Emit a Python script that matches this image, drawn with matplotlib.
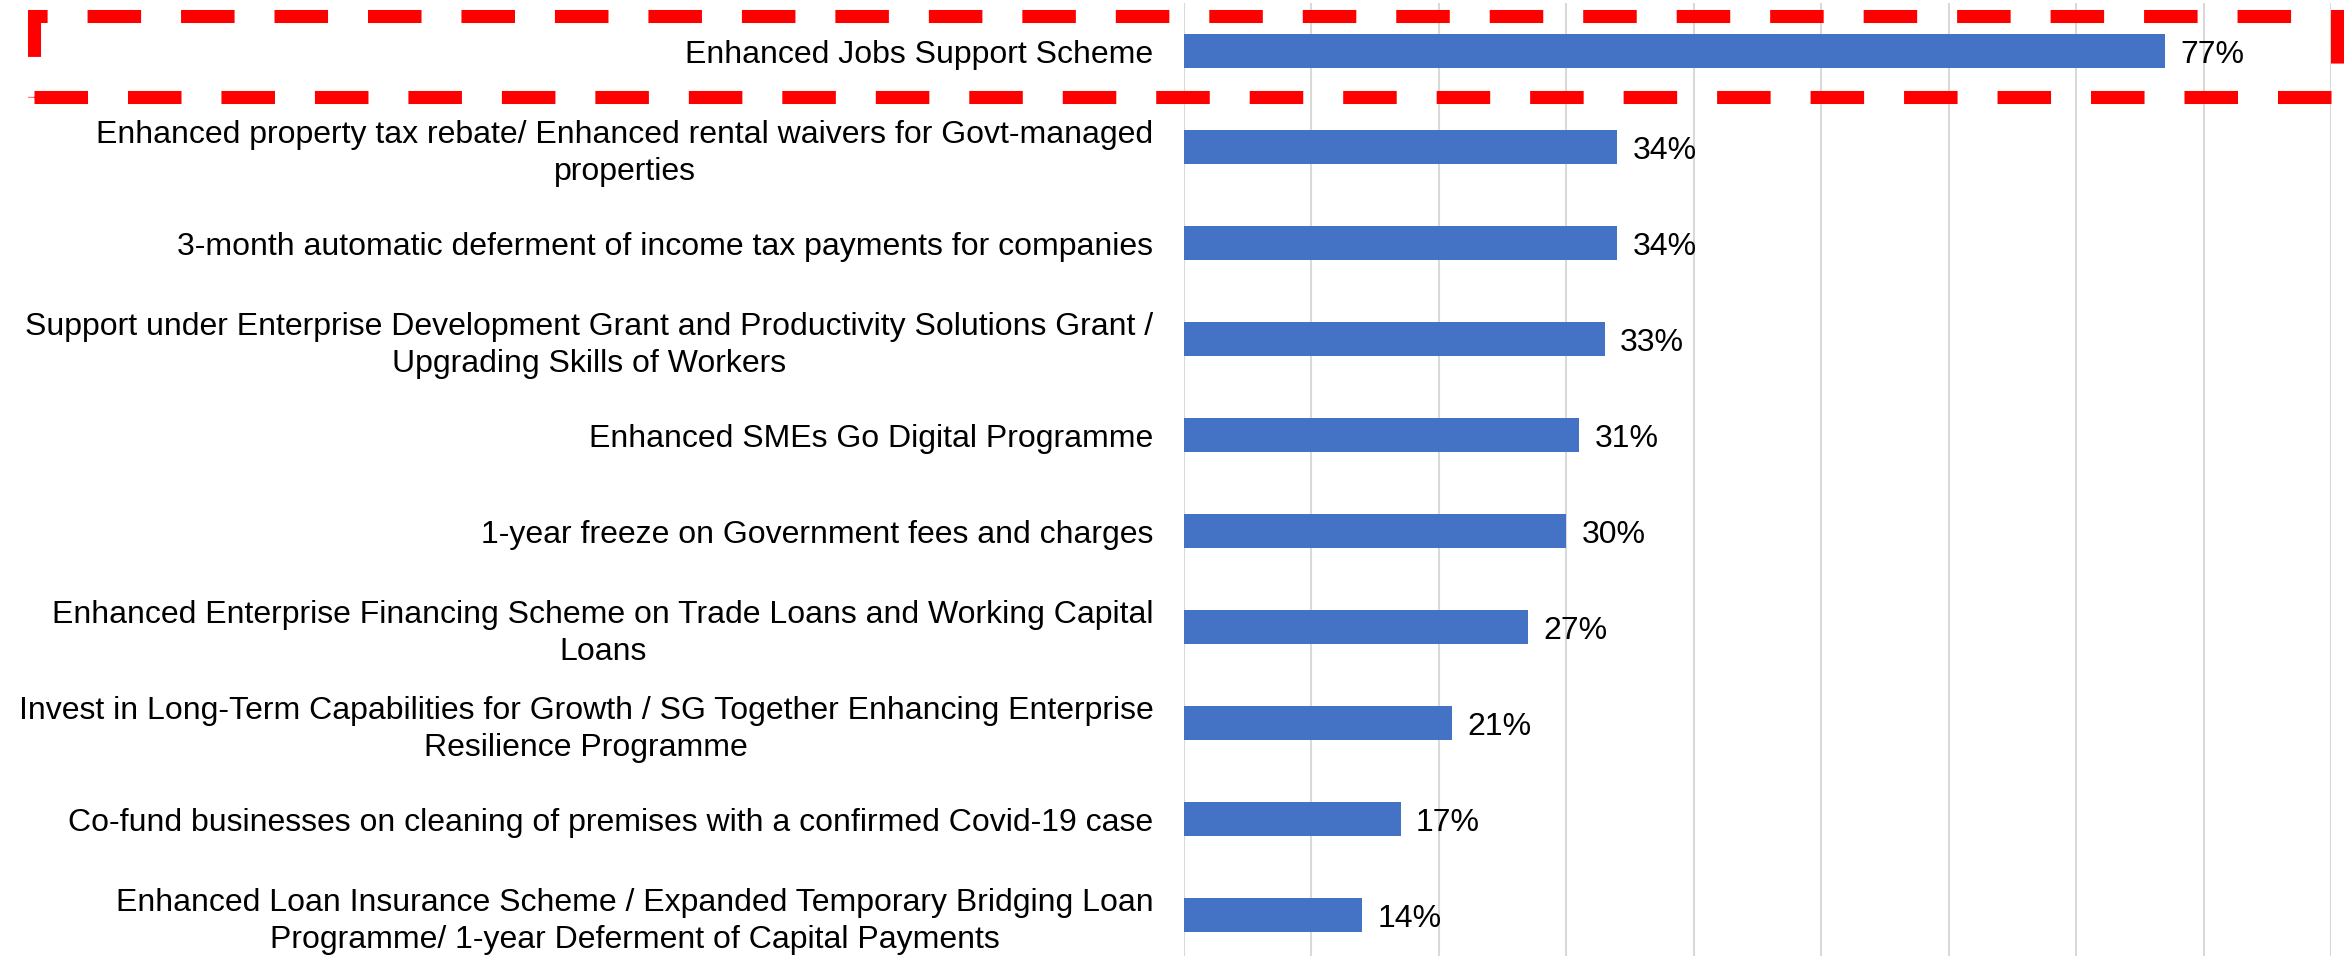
import matplotlib
matplotlib.use("Agg")
import matplotlib.pyplot as plt
from matplotlib.patches import Rectangle

plt.rcParams['font.family'] = ['Liberation Sans', 'DejaVu Sans']

categories = [
    "Enhanced Jobs Support Scheme",
    "Enhanced property tax rebate/ Enhanced rental waivers for Govt-managed\nproperties",
    "3-month automatic deferment of income tax payments for companies",
    "Support under Enterprise Development Grant and Productivity Solutions Grant /\nUpgrading Skills of Workers",
    "Enhanced SMEs Go Digital Programme",
    "1-year freeze on Government fees and charges",
    "Enhanced Enterprise Financing Scheme on Trade Loans and Working Capital\nLoans",
    "Invest in Long-Term Capabilities for Growth / SG Together Enhancing Enterprise\nResilience Programme",
    "Co-fund businesses on cleaning of premises with a confirmed Covid-19 case",
    "Enhanced Loan Insurance Scheme / Expanded Temporary Bridging Loan\nProgramme/ 1-year Deferment of Capital Payments",
]
values = [0.77, 0.34, 0.34, 0.33, 0.31, 0.30, 0.27, 0.21, 0.17, 0.14]
value_labels = ["77%", "34%", "34%", "33%", "31%", "30%", "27%", "21%", "17%", "14%"]
x_ticks = [0.0, 0.1, 0.2, 0.3, 0.4, 0.5, 0.6, 0.7, 0.8, 0.9]

W, H = 2344, 956
FS = 23
fig = plt.figure(figsize=(W / 100, H / 100), dpi=100)
ax = fig.add_axes([1184 / W, -7 / H, 1147 / W, 960 / H])

ypos = list(range(len(categories)))
ax.barh(ypos, values, height=0.354, color="#4472C4", zorder=3)
for y, v, lab in zip(ypos, values, value_labels):
    ax.text(v + 0.012, y + 0.04, lab, va="center", ha="left", fontsize=FS, color="black")

ax.set_xlim(0, 0.9)
ax.set_ylim(len(categories) - 0.5, -0.5)
ax.set_xticks(x_ticks)
ax.set_xticklabels([])
ax.tick_params(axis="x", length=0)
ax.set_yticks(ypos)
ax.set_yticklabels(categories, fontsize=FS, multialignment="center", linespacing=1.28)
ax.tick_params(axis="y", length=0, pad=22)
ax.xaxis.grid(True, color="#D9D9D9", linewidth=1.5, zorder=0)
ax.set_axisbelow(True)
for s in ax.spines.values():
    s.set_visible(False)

# red dashed highlight box (figure pixel coords)
x0, x1, yt, yb = 34, 2337, 16, 97
rect = Rectangle((x0 / W, 1 - yb / H), (x1 - x0) / W, (yb - yt) / H,
                 transform=fig.transFigure, fill=False, edgecolor="#FF0000",
                 linewidth=9.4, linestyle=(0, (4.1, 3.06)), clip_on=False, zorder=10)
fig.patches.append(rect)

fig.savefig("out.png", dpi=100)
